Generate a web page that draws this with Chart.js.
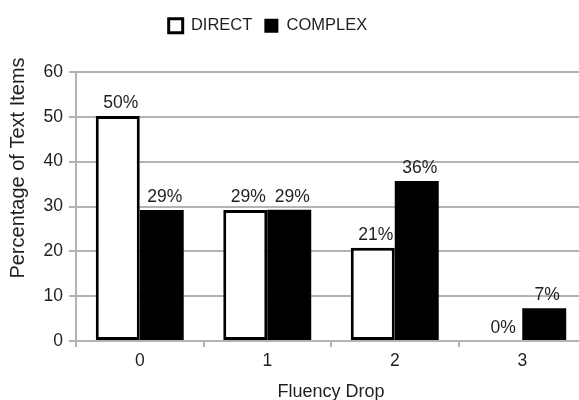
<!DOCTYPE html>
<html>
<head>
<meta charset="utf-8">
<script src="https://cdn.jsdelivr.net/npm/chart.js@4.4.1/dist/chart.umd.min.js"></script>
<style>
    html, body { margin: 0; padding: 0; background: #fff; overflow: hidden; }
    #wrap { position: absolute; left: 0; top: 0; width: 586px; height: 400px; }
</style>
</head>
<body>
<div id="wrap"><canvas id="fluencyChart"></canvas></div>
<script>
const categories = ['0', '1', '2', '3'];
const directValues = [50.2, 29.2, 20.8, 0];
const complexValues = [29.2, 29.3, 35.7, 7.3];
const yMin = 0;
const yMax = 60;
const yStep = 10;
const xTitle = 'Fluency Drop';
const yTitle = 'Percentage of Text Items';

const FONT = '"Liberation Sans", Arial, sans-serif';
const TEXT = '#1f1f1f';
const GRID = '#b3b3b3';

// percentage labels above each bar
const barLabels = {
    id: 'barLabels',
    afterDatasetsDraw(chart) {
        const ctx = chart.ctx;
        ctx.save();
        ctx.font = '17.5px ' + FONT;
        ctx.fillStyle = TEXT;
        ctx.textAlign = 'center';
        ctx.textBaseline = 'alphabetic';
        chart.data.datasets.forEach((ds, i) => {
            chart.getDatasetMeta(i).data.forEach((bar, j) => {
                ctx.fillText(Math.round(ds.data[j]) + '%', bar.x + 3, bar.y - 8);
            });
        });
        ctx.restore();
    }
};

// y title sits higher than the axis centre in the original
const yTitlePlugin = {
    id: 'yTitlePlugin',
    afterDraw(chart) {
        const ctx = chart.ctx;
        ctx.save();
        ctx.font = '20px ' + FONT;
        ctx.fillStyle = TEXT;
        ctx.textAlign = 'center';
        ctx.textBaseline = 'middle';
        ctx.translate(18, 168);
        ctx.rotate(-Math.PI / 2);
        ctx.fillText(yTitle, 0, 0);
        ctx.restore();
    }
};

// legend is a bit left of centre and near the top edge
const legendShift = {
    id: 'legendShift',
    afterLayout(chart) {
        const lg = chart.legend;
        lg.left -= 25;
        lg.right -= 25;
        lg.top -= 28;
        lg.bottom -= 28;
    }
};

new Chart(document.getElementById('fluencyChart'), {
    type: 'bar',
    data: {
        labels: categories,
        datasets: [{
            label: 'DIRECT',
            data: directValues,
            backgroundColor: '#ffffff',
            borderColor: '#000000',
            borderWidth: 3,
            borderSkipped: false
        }, {
            label: 'COMPLEX',
            data: complexValues,
            backgroundColor: '#000000',
            borderColor: '#000000',
            borderWidth: 0
        }]
    },
    options: {
        responsive: true,
        maintainAspectRatio: false,
        animation: false,
        layout: {padding: 0},
        datasets: {
            bar: {categoryPercentage: 0.69, barPercentage: 1.0}
        },
        plugins: {
            legend: {
                position: 'top',
                labels: {
                    boxWidth: 14,
                    boxHeight: 14,
                    padding: 12,
                    color: TEXT,
                    font: {family: FONT, size: 16.5}
                }
            },
            tooltip: {enabled: false}
        },
        scales: {
            x: {
                grid: {
                    display: true,
                    drawOnChartArea: false,
                    drawTicks: true,
                    tickLength: 6,
                    color: GRID,
                    lineWidth: 2
                },
                border: {color: GRID, width: 2},
                ticks: {color: TEXT, font: {family: FONT, size: 17.5}, padding: 4},
                title: {
                    display: true,
                    text: xTitle,
                    color: TEXT,
                    font: {family: FONT, size: 18, lineHeight: 1},
                    padding: {top: 0, bottom: -1.5}
                },
                afterFit(scale) {
                    scale.height = 59;
                }
            },
            y: {
                min: yMin,
                max: yMax,
                ticks: {stepSize: yStep, color: TEXT, font: {family: FONT, size: 17.5}, padding: 6},
                grid: {color: GRID, lineWidth: 2, tickLength: 7},
                border: {color: GRID, width: 2},
                afterFit(scale) {
                    scale.width = 76;
                    scale.paddingTop = 72;
                }
            }
        }
    },
    plugins: [barLabels, yTitlePlugin, legendShift]
});
</script>
</body>
</html>
